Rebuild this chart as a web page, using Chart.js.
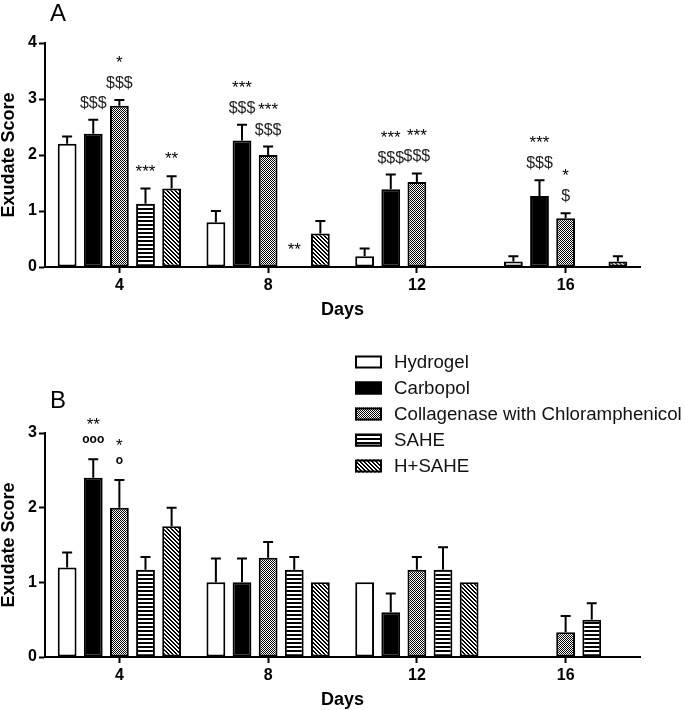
<!DOCTYPE html>
<html>
<head>
<meta charset="utf-8">
<script src="https://cdn.jsdelivr.net/npm/chart.js@4.4.1/dist/chart.umd.min.js"></script>
<style>
  body { margin: 0; background: #fff; }
  #wrap { position: relative; width: 685px; height: 710px; }
  canvas { position: absolute; left: 0; }
</style>
</head>
<body>
<div id="wrap">
  <canvas id="chartA" width="685" height="330" style="top:0"></canvas>
  <canvas id="chartB" width="685" height="380" style="top:330px"></canvas>
</div>
<script>
const days = ['4', '8', '12', '16'];
const groups = ['Hydrogel', 'Carbopol', 'Collagenase with Chloramphenicol', 'SAHE', 'H+SAHE'];

// panel A: mean score per day, upper error (SEM), significance marks
const hydrogelA = [2.2, 0.8, 0.19, 0.1];
const hydrogelErrA = [0.13, 0.2, 0.14, 0.09];
const carbopolA = [2.38, 2.26, 1.39, 1.27];
const carbopolErrA = [0.25, 0.28, 0.26, 0.28];
const collagenaseA = [2.88, 2.0, 1.52, 0.87];
const collagenaseErrA = [0.1, 0.15, 0.15, 0.09];
const saheA = [1.13, 0, 0, 0];
const saheErrA = [0.27, null, null, null];
const hSaheA = [1.4, 0.6, 0, 0.1];
const hSaheErrA = [0.22, 0.22, null, 0.09];

const carbopolMarksA = ['$$$', '***\n$$$', '***\n$$$', '***\n$$$'];
const collagenaseMarksA = ['*\n$$$', '***\n$$$', '***\n$$$', '*\n$'];
const saheMarksA = ['***', '**', '', ''];
const hSaheMarksA = ['**', '', '', ''];

// panel B
const hydrogelB = [1.2, 1.0, 1.0, 0];
const hydrogelErrB = [0.2, 0.32, null, null];
const carbopolB = [2.4, 1.0, 0.6, 0];
const carbopolErrB = [0.25, 0.32, 0.25, null];
const collagenaseB = [2.0, 1.33, 1.17, 0.33];
const collagenaseErrB = [0.37, 0.21, 0.17, 0.22];
const saheB = [1.17, 1.17, 1.17, 0.5];
const saheErrB = [0.17, 0.17, 0.3, 0.22];
const hSaheB = [1.75, 1.0, 1.0, 0];
const hSaheErrB = [0.25, null, null, null];

const carbopolMarksB = ['**\nooo', '', '', ''];
const collagenaseMarksB = ['*\no', '', '', ''];

const FONT = '"Liberation Sans", Arial, Helvetica, sans-serif';
Chart.defaults.font.family = FONT;
Chart.defaults.color = '#000';

function makePattern(w, h, paint) {
  const c = document.createElement('canvas');
  c.width = w; c.height = h;
  const g = c.getContext('2d');
  g.fillStyle = '#fff';
  g.fillRect(0, 0, w, h);
  g.fillStyle = '#000';
  paint(g);
  return g.createPattern(c, 'repeat');
}
const dots = makePattern(2, 2, g => { g.fillRect(0, 0, 1, 1); g.fillRect(1, 1, 1, 1); });
const hLines = makePattern(4, 4, g => g.fillRect(0, 0, 4, 2));
const diag = makePattern(4, 4, g => {
  for (let i = 0; i < 4; i++) { g.fillRect(i, i, 1, 1); g.fillRect((i + 1) % 4, i, 1, 1); }
});
const fills = ['#fff', '#000', dots, hLines, diag];

function makeSet(i, data, sem, marks) {
  return {
    label: groups[i],
    data: data,
    sem: sem,
    marks: marks || [],
    backgroundColor: fills[i],
    borderColor: '#000',
    borderWidth: 2,
    borderSkipped: false,
    categoryPercentage: 0.878,
    barPercentage: 0.72
  };
}

function markFont(line) {
  if (line[0] === '$') return '16px ' + FONT;
  if (line[0] === 'o') return 'bold 12px ' + FONT;
  return '17px ' + FONT;
}

// error bars (upper only) and the significance marks above them
const errorBars = {
  id: 'errorBars',
  afterDatasetsDraw(chart, args, opts) {
    const ctx = chart.ctx;
    const yScale = chart.scales.y;
    ctx.save();
    ctx.strokeStyle = '#000';
    ctx.lineWidth = 2;
    chart.data.datasets.forEach((ds, i) => {
      chart.getDatasetMeta(i).data.forEach((bar, j) => {
        const e = ds.sem[j];
        let top = bar.y;
        if (e != null) {
          top = yScale.getPixelForValue(ds.data[j] + e);
          ctx.beginPath();
          ctx.moveTo(bar.x, bar.y);
          ctx.lineTo(bar.x, top);
          ctx.moveTo(bar.x - 5, top);
          ctx.lineTo(bar.x + 5, top);
          ctx.stroke();
        }
        const m = ds.marks[j];
        if (!m) return;
        let base = top - opts.offset;
        ctx.textAlign = 'center';
        ctx.textBaseline = 'alphabetic';
        m.split('\n').reverse().forEach(line => {
          ctx.font = markFont(line);
          ctx.fillStyle = line[0] === '$' ? '#222' : '#000';
          ctx.fillText(line, bar.x, base);
          base -= opts.gap;
        });
      });
    });
    ctx.restore();
  }
};

const panelLabel = {
  id: 'panelLabel',
  afterDraw(chart, args, opts) {
    const ctx = chart.ctx;
    ctx.save();
    ctx.font = '24px ' + FONT;
    ctx.fillStyle = '#000';
    ctx.textBaseline = 'alphabetic';
    ctx.fillText(opts.text, opts.x, opts.y);
    ctx.restore();
  }
};

const boxLegend = {
  id: 'boxLegend',
  afterDraw(chart, args, opts) {
    if (!opts.show) return;
    const ctx = chart.ctx;
    ctx.save();
    chart.data.datasets.forEach((ds, i) => {
      const cy = opts.y + i * opts.gap;
      ctx.fillStyle = ds.backgroundColor;
      ctx.fillRect(opts.x, cy - 6.5, 27, 13);
      ctx.strokeStyle = '#000';
      ctx.lineWidth = 2;
      ctx.strokeRect(opts.x + 1, cy - 5.5, 25, 11);
      ctx.fillStyle = '#111';
      ctx.font = '18.7px ' + FONT;
      ctx.textBaseline = 'middle';
      ctx.fillText(ds.label, opts.textX, cy + 1);
    });
    ctx.restore();
  }
};

function scalesFor(max) {
  const axisTitle = { family: FONT, size: 18, weight: 'bold', lineHeight: 1 };
  const tickFont = { family: FONT, size: 16, weight: 'bold' };
  return {
    x: {
      grid: { display: true, drawOnChartArea: false, drawTicks: true, tickLength: 6, tickWidth: 2, tickColor: '#000', offset: false },
      border: { display: true, color: '#000', width: 2 },
      ticks: { color: '#000', font: tickFont, padding: 3 },
      title: { display: true, text: 'Days', color: '#000', font: axisTitle, padding: 0 },
      afterFit(s) { s.height = 52; }
    },
    y: {
      min: 0,
      max: max,
      ticks: { stepSize: 1, color: '#000', font: tickFont, padding: 2 },
      grid: { display: true, drawOnChartArea: false, drawTicks: true, tickLength: 6, tickWidth: 2, tickColor: '#000' },
      border: { display: true, color: '#000', width: 2 },
      title: { display: true, text: 'Exudate Score', color: '#000', font: axisTitle, padding: 0 },
      afterFit(s) { s.width = 45; }
    }
  };
}

new Chart(document.getElementById('chartA'), {
  type: 'bar',
  data: {
    labels: days,
    datasets: [
      makeSet(0, hydrogelA, hydrogelErrA),
      makeSet(1, carbopolA, carbopolErrA, carbopolMarksA),
      makeSet(2, collagenaseA, collagenaseErrA, collagenaseMarksA),
      makeSet(3, saheA, saheErrA, saheMarksA),
      makeSet(4, hSaheA, hSaheErrA, hSaheMarksA)
    ]
  },
  options: {
    responsive: false,
    animation: false,
    layout: { padding: { left: 0, top: 43, right: 45, bottom: 11 } },
    scales: scalesFor(4),
    plugins: {
      legend: { display: false },
      tooltip: { enabled: false },
      errorBars: { offset: 12, gap: 20 },
      panelLabel: { text: 'A', x: 50, y: 21 },
      boxLegend: { show: false }
    }
  },
  plugins: [errorBars, panelLabel, boxLegend]
});

new Chart(document.getElementById('chartB'), {
  type: 'bar',
  data: {
    labels: days,
    datasets: [
      makeSet(0, hydrogelB, hydrogelErrB),
      makeSet(1, carbopolB, carbopolErrB, carbopolMarksB),
      makeSet(2, collagenaseB, collagenaseErrB, collagenaseMarksB),
      makeSet(3, saheB, saheErrB),
      makeSet(4, hSaheB, hSaheErrB)
    ]
  },
  options: {
    responsive: false,
    animation: false,
    layout: { padding: { left: 0, top: 103, right: 45, bottom: 1 } },
    scales: scalesFor(3),
    plugins: {
      legend: { display: false },
      tooltip: { enabled: false },
      errorBars: { offset: 16, gap: 13 },
      panelLabel: { text: 'B', x: 50, y: 78 },
      boxLegend: { show: true, x: 355, y: 32, gap: 26, textX: 394 }
    }
  },
  plugins: [errorBars, panelLabel, boxLegend]
});
</script>
</body>
</html>
